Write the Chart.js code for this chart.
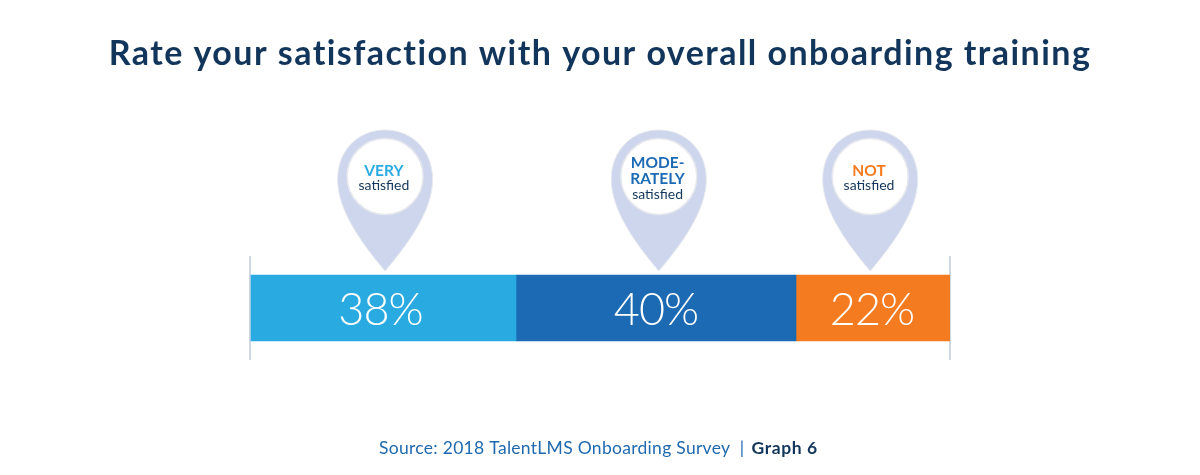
<!DOCTYPE html>
<html>
<head>
<meta charset="utf-8">
<style>
html,body{margin:0;padding:0;background:#fff;overflow:hidden}
#wrap{position:relative;width:1200px;height:475px}
</style>
<script src="https://cdn.jsdelivr.net/npm/chart.js@4"></script>
</head>
<body>
<div id="wrap"><canvas id="c" width="1200" height="475"></canvas></div>
<script>
const categories = ['Rating'];
const seriesNames = ['VERY satisfied', 'MODERATELY satisfied', 'NOT satisfied'];
const veryValues = [38];
const moderatelyValues = [40];
const notValues = [22];
const seriesColors = ['#29abe2', '#1c6ab4', '#f47b20'];
const pinAnchors = [19.3, 58.4, 88.6];
const pinHeads = [['VERY'], ['MODE-', 'RATELY'], ['NOT']];
const pinSub = 'satisfied';
const titleText = 'Rate your satisfaction with your overall onboarding training';
const sourceText = 'Source: 2018 TalentLMS Onboarding Survey  |  ';
const graphText = 'Graph 6';

const FONT = 'Lato, "Open Sans", sans-serif';
const labelNudge = [-3, 0, -1];

const overlay = {
  id: 'overlay',
  beforeDraw(chart) { chart.ctx.letterSpacing = '1.45px'; },
  beforeDatasetsDraw(chart) { chart.ctx.letterSpacing = '0px'; },
  afterDatasetsDraw(chart) {
    const ctx = chart.ctx, x = chart.scales.x;
    ctx.save();
    // percentage labels inside the bar
    chart.data.datasets.forEach((ds, i) => {
      const el = chart.getDatasetMeta(i).data[0];
      const c = el.getCenterPoint();
      ctx.font = '300 45px ' + FONT;
      ctx.letterSpacing = '-1px';
      ctx.fillStyle = '#fff';
      ctx.textAlign = 'center';
      ctx.textBaseline = 'middle';
      ctx.fillText(ds.data[0] + '%', c.x + labelNudge[i], c.y + 2);
      ctx.letterSpacing = '0px';
    });
    // pins
    pinAnchors.forEach((v, i) => {
      const px = x.getPixelForValue(v);
      const tip = 271, cy = 177.5, r = 47.5;
      ctx.beginPath();
      ctx.moveTo(px, tip);
      ctx.bezierCurveTo(px - 22, tip - 26, px - r, tip - 60, px - r, cy + 2);
      ctx.bezierCurveTo(px - r, cy - 28, px - 26, cy - r, px, cy - r);
      ctx.bezierCurveTo(px + 26, cy - r, px + r, cy - 28, px + r, cy + 2);
      ctx.bezierCurveTo(px + r, tip - 60, px + 22, tip - 26, px, tip);
      ctx.closePath();
      ctx.fillStyle = '#cdd6ec';
      ctx.fill();
      ctx.strokeStyle = '#e6e8ee';
      ctx.lineWidth = 1;
      ctx.stroke();
      ctx.beginPath();
      ctx.arc(px, cy - 1, 38, 0, Math.PI * 2);
      ctx.fillStyle = '#fff';
      ctx.fill();
      ctx.strokeStyle = '#e6e8ee';
      ctx.lineWidth = 1.5;
      ctx.stroke();
      const heads = pinHeads[i];
      const tx = px - 1.2;
      ctx.textAlign = 'center';
      ctx.textBaseline = 'middle';
      ctx.fillStyle = seriesColors[i];
      ctx.font = '700 15.5px ' + FONT;
      const startY = heads.length === 2 ? 163 : 170.5;
      heads.forEach((h, k) => ctx.fillText(h, tx, startY + k * 16));
      ctx.fillStyle = '#12355b';
      ctx.font = '400 14px ' + FONT;
      ctx.fillText(pinSub, tx, heads.length === 2 ? 194.5 : 185.5);
    });
    // source line
    ctx.textAlign = 'left';
    ctx.textBaseline = 'middle';
    ctx.font = '400 17.5px ' + FONT;
    ctx.letterSpacing = '0.29px';
    ctx.fillStyle = '#1f69b0';
    ctx.fillText(sourceText, 379, 448);
    ctx.font = '700 17.5px ' + FONT;
    ctx.letterSpacing = '0.6px';
    ctx.fillStyle = '#12355b';
    ctx.fillText(graphText, 751.5, 448);
    ctx.restore();
  }
};

new Chart(document.getElementById('c'), {
  type: 'bar',
  data: {
    labels: categories,
    datasets: [
      { label: seriesNames[0], data: veryValues, backgroundColor: seriesColors[0] },
      { label: seriesNames[1], data: moderatelyValues, backgroundColor: seriesColors[1] },
      { label: seriesNames[2], data: notValues, backgroundColor: seriesColors[2] }
    ]
  },
  options: {
    indexAxis: 'y',
    responsive: false,
    animation: false,
    layout: { padding: 0 },
    datasets: { bar: { barThickness: 66, borderWidth: 0 } },
    scales: {
      x: {
        stacked: true, min: 0, max: 100,
        ticks: { stepSize: 100, display: false },
        border: { display: false },
        grid: { color: '#cfd9e3', lineWidth: 2, drawTicks: false }
      },
      y: {
        stacked: true,
        ticks: { display: false },
        border: { display: false },
        grid: { display: false }
      }
    },
    plugins: {
      legend: { display: false },
      tooltip: { enabled: false },
      title: {
        display: true, text: titleText, color: '#12355b',
        font: { family: FONT, size: 34, weight: '700' }
      }
    }
  },
  plugins: [overlay, {
    id: 'fixArea',
    afterLayout(chart) {
      const a = chart.chartArea;
      a.left = 250; a.right = 950; a.top = 256; a.bottom = 360;
      a.width = 700; a.height = 104;
      const sx = chart.scales.x, sy = chart.scales.y;
      sx.left = 250; sx.right = 950; sx.width = 700; sx.top = 360; sx.bottom = 360; sx.height = 0;
      sy.left = 250; sy.right = 250; sy.width = 0; sy.top = 256; sy.bottom = 360; sy.height = 104;
      sx.configure(); sy.configure();
      chart.titleBlock.top = 24; chart.titleBlock.bottom = 70;
    }
  }]
});
</script>
</body>
</html>
